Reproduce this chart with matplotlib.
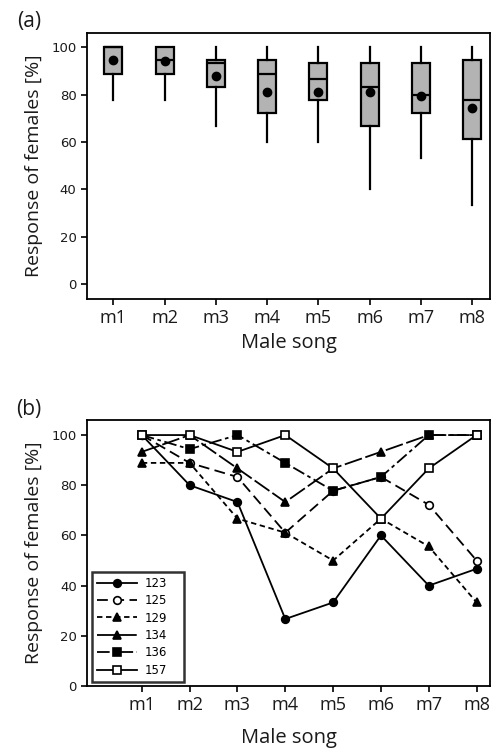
import matplotlib
matplotlib.use("Agg")
import matplotlib.pyplot as plt
import numpy as np

# ---------------- data ----------------
songs = ["m1", "m2", "m3", "m4", "m5", "m6", "m7", "m8"]

# panel (a) box statistics
box_low = [77.8, 77.8, 66.7, 60.0, 60.0, 40.0, 53.3, 33.3]
box_q1 = [88.9, 88.9, 83.3, 72.2, 77.8, 66.7, 72.2, 61.1]
box_med = [100.0, 94.4, 93.3, 88.9, 86.7, 83.3, 80.0, 77.8]
box_q3 = [100.0, 100.0, 94.4, 94.4, 93.3, 93.3, 93.3, 94.4]
box_high = [100.0, 100.0, 100.0, 100.0, 100.0, 100.0, 100.0, 100.0]
box_mean = [94.8, 94.2, 88.0, 81.3, 81.0, 81.2, 79.2, 74.5]

# panel (b) individual females
female_ids = ["123", "125", "129", "134", "136", "157"]
f123 = [100.0, 80.0, 73.3, 26.7, 33.3, 60.0, 40.0, 46.7]
f125 = [100.0, 88.9, 83.3, 61.1, 77.8, 83.3, 72.2, 50.0]
f129 = [88.9, 88.9, 66.7, 61.1, 50.0, 66.7, 55.6, 33.3]
f134 = [93.3, 100.0, 86.7, 73.3, 86.7, 93.3, 100.0, 100.0]
f136 = [100.0, 94.4, 100.0, 88.9, 77.8, 83.3, 100.0, 100.0]
f157 = [100.0, 100.0, 93.3, 100.0, 86.7, 66.7, 86.7, 100.0]
female_values = [f123, f125, f129, f134, f136, f157]

# ---------------- figure ----------------
W, H = 492, 748
fig = plt.figure(figsize=(W / 100, H / 100), dpi=100)

lab_font = ["Open Sans", "DejaVu Sans"]
tick_font = "DejaVu Sans"
txt_col = "#1a1a1a"

def style_axes(ax):
    for s in ax.spines.values():
        s.set_linewidth(1.3)
        s.set_color("black")
    ax.tick_params(axis="both", direction="out", length=4, width=1.2, color="black")
    for lbl in ax.get_yticklabels():
        lbl.set_fontfamily(tick_font)
        lbl.set_fontsize(9.5)
        lbl.set_color(txt_col)
    for lbl in ax.get_xticklabels():
        lbl.set_fontfamily(lab_font)
        lbl.set_fontsize(13)
        lbl.set_color(txt_col)

# ---- panel (a)
axa = fig.add_axes([87 / W, 1 - 299 / H, 403 / W, 266 / H])
x = np.arange(1, len(songs) + 1)
stats = []
for i in range(len(songs)):
    stats.append(dict(label=songs[i], whislo=box_low[i], q1=box_q1[i], med=box_med[i],
                      q3=box_q3[i], whishi=box_high[i], mean=box_mean[i], fliers=[]))
axa.bxp(stats, positions=x, widths=0.35, showmeans=True, showcaps=False,
        showfliers=False, patch_artist=True,
        boxprops=dict(facecolor="#b3b3b3", edgecolor="black", linewidth=1.6),
        whiskerprops=dict(color="black", linewidth=1.6),
        medianprops=dict(color="black", linewidth=1.6),
        meanprops=dict(marker="o", markerfacecolor="black", markeredgecolor="black",
                       markersize=6))
axa.set_xlim(0.487, 8.35)
axa.set_ylim(-6.3, 106)
axa.set_yticks([0, 20, 40, 60, 80, 100])
axa.set_xticks(x)
axa.set_xticklabels(songs)
axa.set_ylabel("Response of females [%]", fontfamily=lab_font, fontsize=14, color=txt_col,
               labelpad=6)
axa.set_xlabel("Male song", fontfamily=lab_font, fontsize=14.5, color=txt_col, labelpad=4)
style_axes(axa)
fig.text(29 / W, 1 - 22 / H, "(a)", fontfamily=lab_font, fontsize=15, ha="center",
         va="center", color=txt_col)

# ---- panel (b)
axb = fig.add_axes([87.3 / W, 1 - 686 / H, 402.7 / W, 266 / H])
styles = [
    dict(ls="-", marker="o", mfc="black"),
    dict(ls=(0, (6, 3)), marker="o", mfc="white"),
    dict(ls=(0, (3, 2)), marker="^", mfc="black"),
    dict(ls=(0, (10, 2)), marker="^", mfc="black"),
    dict(ls=(0, (7, 2, 2, 2)), marker="s", mfc="black"),
    dict(ls="-", marker="s", mfc="white"),
]
for fid, vals, st in zip(female_ids, female_values, styles):
    axb.plot(x, vals, color="black", linewidth=1.3, linestyle=st["ls"],
             marker=st["marker"], markersize=5.5, markerfacecolor=st["mfc"],
             markeredgecolor="black", markeredgewidth=1.2, label=fid)
axb.set_xlim(-0.14, 8.28)
axb.set_ylim(0, 106)
axb.set_yticks([0, 20, 40, 60, 80, 100])
axb.set_xticks(x)
axb.set_xticklabels(songs)
axb.set_ylabel("Response of females [%]", fontfamily=lab_font, fontsize=14, color=txt_col,
               labelpad=6)
axb.set_xlabel("Male song", fontfamily=lab_font, fontsize=14.5, color=txt_col, labelpad=10)
style_axes(axb)
leg = axb.legend(loc="lower left", bbox_to_anchor=(0.0117, 0.015, 0.228, 0.4), mode="expand",
                 frameon=True, fancybox=False,
                 handlelength=3.4, handletextpad=0.6, borderpad=0.45, labelspacing=0.37,
                 prop=dict(family="DejaVu Sans", size=8.5), borderaxespad=0.0)
leg.get_frame().set_edgecolor("black")
leg.get_frame().set_linewidth(1.8)
fig.text(29 / W, 1 - 409 / H, "(b)", fontfamily=lab_font, fontsize=15, ha="center",
         va="center", color=txt_col)

fig.savefig("out.png", dpi=100)
